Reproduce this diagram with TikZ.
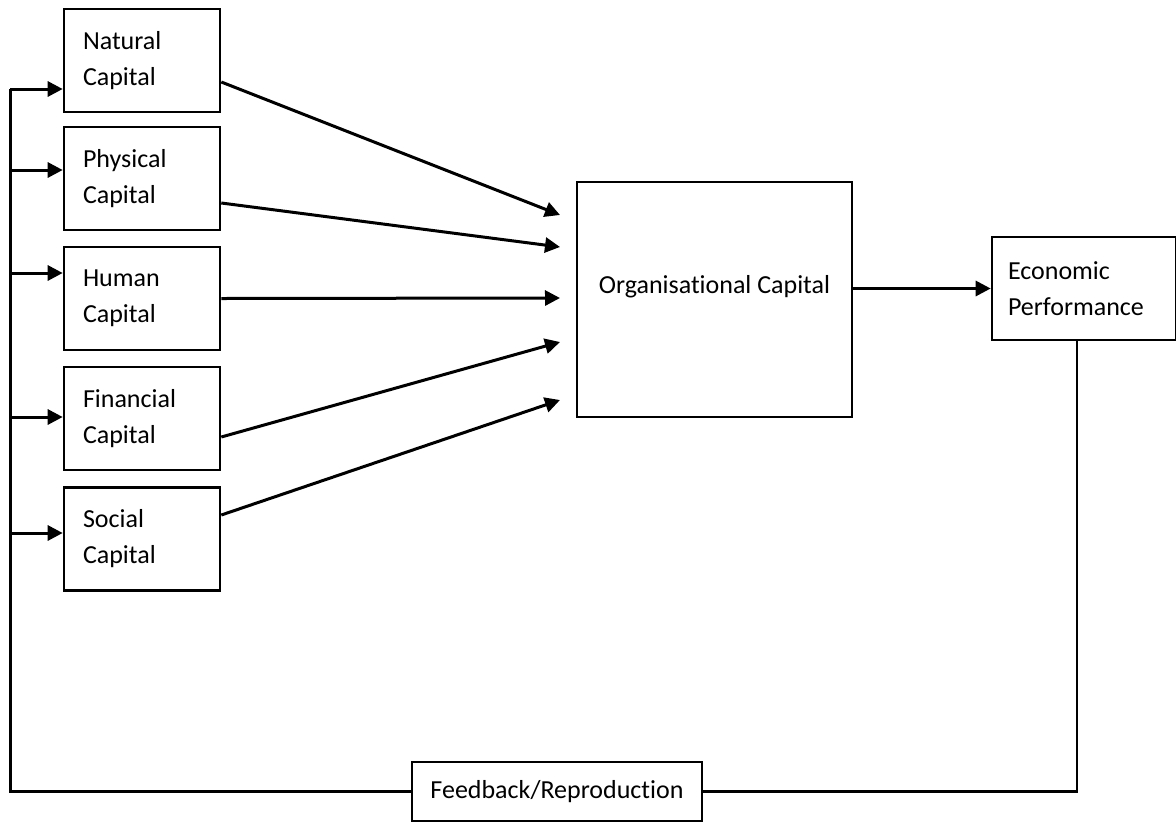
\documentclass[tikz,border=0pt]{standalone}
\usepackage{fontspec}
\setmainfont{Carlito}[Ligatures=NoCommon]
\usetikzlibrary{arrows.meta}

\tikzset{
  capbox/.style={draw, line width=2.6pt, minimum width=156pt, minimum height=103pt,
    text width=118pt, align=left, inner sep=0pt, font=\fontsize{26}{36}\selectfont},
  link/.style={line width=3pt, -{Triangle[length=15pt,width=15pt]}},
  plain/.style={line width=2.4pt},
}

\begin{document}
\begin{tikzpicture}[x=1pt,y=-1pt]
	\useasboundingbox (0,0) rectangle (1176,823);
	% capitals
	\node[capbox] (natural) at (142,60.5) {Natural\\Capital};
	\node[capbox] (physical) at (142,178.5) {Physical\\Capital};
	\node[capbox] (human) at (142,298.5) {Human\\Capital};
	\node[capbox] (financial) at (142,418.5) {Financial\\Capital};
	\node[capbox] (social) at (142,539) {Social\\Capital};
	\node[capbox, minimum width=275pt, minimum height=235pt, text width=, align=center,
		text depth=30pt] (org) at (714.5,299.5) {Organisational Capital};
	\node[capbox, minimum width=184pt, text width=152pt] (econ) at (1084,288.5) {Economic\\Performance};
	\node[capbox, minimum width=290pt, minimum height=59pt, text width=, align=center] (fb) at (557,791.5) {Feedback/Reproduction};
	% feedback loop
	\coordinate (top) at (10,89);
	\draw[plain] ([xshift=-7pt]econ.south) |- (fb.east);
	\draw[line width=3pt] (fb.west) -| (top);
	\foreach \n/\y in {natural/89, physical/170, human/273, financial/417, social/533}{
		\coordinate (b-\n) at (10,\y);
		\draw[link] (b-\n) -- (b-\n -| \n.west);
	}
	% into organisational capital
	\foreach \n/\dy/\ty in {natural/-21.5/215, physical/-24.5/247, human/0/298, financial/-18.5/342, social/24/400}{
		\coordinate (t-\n) at (560,\ty);
		\draw[link] ([yshift=\dy pt]\n.east) -- (t-\n);
	}
	\draw[link] (org.east |- econ) -- (econ.west);
\end{tikzpicture}
\end{document}
